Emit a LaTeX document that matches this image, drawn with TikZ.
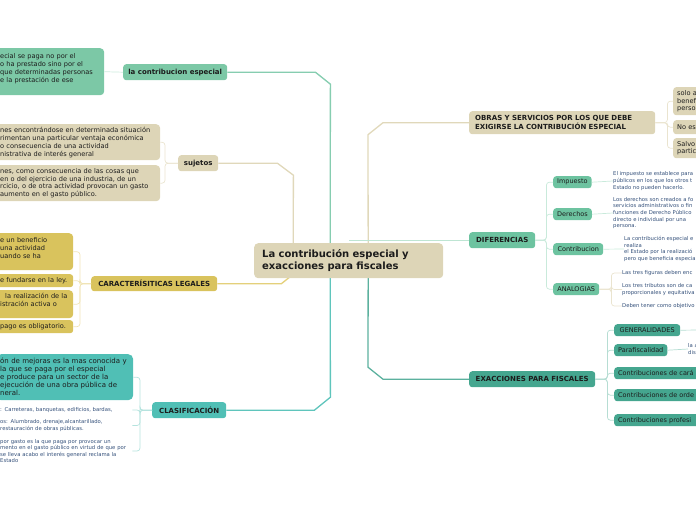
\documentclass[tikz,border=0pt]{standalone}
\usepackage{fontspec}
\setmainfont{DejaVu Sans}
\usepackage{xcolor}
\usepackage{tikz}
\usetikzlibrary{positioning}

\pgfdeclarelayer{background}
\pgfsetlayers{background,main}

\definecolor{ink}{HTML}{1C1C1C}
\definecolor{notec}{HTML}{34507A}
\definecolor{tanbox}{HTML}{DDD5B7}
\definecolor{tanln}{HTML}{E0D8BA}
\definecolor{tantw}{HTML}{EAE4CF}
\definecolor{mint}{HTML}{7CC8A6}
\definecolor{mintln}{HTML}{86CDB0}
\definecolor{minttw}{HTML}{CDEBDD}
\definecolor{mustard}{HTML}{D9C35D}
\definecolor{mustln}{HTML}{E4D07A}
\definecolor{musttw}{HTML}{F0E4B5}
\definecolor{lagoon}{HTML}{50BFB5}
\definecolor{lagoonln}{HTML}{5FC5BC}
\definecolor{lagoontw}{HTML}{B5E3DE}
\definecolor{sea}{HTML}{6DC3A0}
\definecolor{sealn}{HTML}{BEE5D3}
\definecolor{seatw}{HTML}{C9EADB}
\definecolor{pine}{HTML}{45A68F}
\definecolor{pineln}{HTML}{5CB19E}
\definecolor{pinetw}{HTML}{B6DDD3}

\begin{document}
\begin{tikzpicture}[x=1pt, y=-1pt,
  box/.style={rounded corners=3pt, anchor=north west, inner ysep=0pt, inner xsep=4pt, text=ink},
  topic/.style={box, align=center, font=\bfseries\fontsize{7}{8.5}\selectfont},
  leaf/.style={box, align=left, font=\fontsize{6.6}{7.9}\selectfont},
  tag/.style={box, align=center, font=\fontsize{6.5}{7.8}\selectfont},
  note/.style={anchor=west, inner sep=0pt, align=left, text=notec, font=\fontsize{5.3}{6.6}\selectfont},
  link/.style={line width=1.3pt},
  twig/.style={line width=0.7pt, rounded corners=3pt}
]
\useasboundingbox (0,0) rectangle (696,520);

% centre
\node[box, fill=tanbox, rounded corners=4pt, minimum width=189pt, minimum height=35pt, inner xsep=8pt,
  text width=173pt, align=left, font=\bfseries\fontsize{10}{12}\selectfont] (ctr) at (254,243)
  {La contribución especial y\\exacciones para fiscales};

% left side
\node[topic, fill=mint, minimum width=104pt, minimum height=16pt] (ce) at (123,64) {la contribucion especial};
\node[leaf, fill=mint, rounded corners=4pt, text width=100pt, minimum height=47pt] (ce1) at (-4,48)
  {ecial se paga no por el\\o ha prestado sino por el\\que determinadas personas\\e la prestación de ese\\\mbox{}};

\node[topic, fill=tanbox, minimum width=40pt, minimum height=16pt] (suj) at (178,155) {sujetos};
\node[leaf, fill=tanbox, rounded corners=4pt, text width=156pt, minimum height=36pt] (suj1) at (-4,124)
  {nes encontrándose en determinada situación\\rimentan una particular ventaja económica\\o consecuencia de una actividad\\nistrativa de interés general};
\node[leaf, fill=tanbox, rounded corners=4pt, text width=156pt, minimum height=36pt] (suj2) at (-4,165)
  {nes, como consecuencia de las cosas que\\en o del ejercicio de una industria, de un\\rcicio, o de otra actividad provocan un gasto\\aumento en el gasto público.};

\node[topic, fill=mustard, minimum width=126pt, minimum height=15pt] (car) at (91,276) {CARACTERÍSITICAS LEGALES};
\node[leaf, fill=mustard, rounded corners=4pt, text width=69pt, minimum height=37pt] (car1) at (-4,233)
  {e un beneficio\\una actividad\\uando se ha\\\mbox{}};
\node[leaf, fill=mustard, text width=69pt, minimum height=13pt] (car2) at (-4,274) {e fundarse en la ley.};
\node[leaf, fill=mustard, rounded corners=4pt, text width=69pt, minimum height=28pt] (car3) at (-4,290)
  {\hspace*{5pt}la realización de la\\istración activa o\\\mbox{}};
\node[leaf, fill=mustard, text width=69pt, minimum height=13pt] (car4) at (-4,320) {pago es obligatorio.};

\node[topic, fill=lagoon, minimum width=74pt, minimum height=16pt] (cla) at (152,402) {CLASIFICACIÓN};
\node[leaf, fill=lagoon, rounded corners=5pt, text width=129pt, minimum height=46pt,
  font=\fontsize{7}{8}\selectfont] (cla1) at (-4,354)
  {ón de mejoras es la mas conocida y\\la que se paga por el especial\\e produce para un sector de la\\ejecución de una obra pública de\\neral.};
\node[note, text width=132pt] (cln1) at (0,410) {: Carreteras, banquetas, edificios, bardas,};
\node[note, text width=132pt] (cln2) at (0,425.5) {os: Alumbrado, drenaje,alcantarillado,\\restauración de obras públicas.};
\node[note, text width=132pt] (cln3) at (0,451)
  {por gasto es la que paga por provocar un\\mento en el gasto público en virtud de que por\\se lleva acabo el interés general reclama la\\Estado};

% right side
\node[box, fill=tanbox, minimum width=186pt, minimum height=23pt, inner xsep=6pt, text width=174pt, align=left,
  font=\bfseries\fontsize{7}{9}\selectfont] (obr) at (469,111)
  {OBRAS Y SERVICIOS POR LOS QUE DEBE\\EXIGIRSE LA CONTRIBUCIÓN ESPECIAL};
\node[leaf, fill=tanbox, text width=40pt, minimum height=28pt] (ob1) at (673,87) {solo a\\benef\\perso};
\node[leaf, fill=tanbox, text width=40pt, minimum height=14pt] (ob2) at (673,120) {No es};
\node[leaf, fill=tanbox, text width=40pt, minimum height=20pt] (ob3) at (673,138) {Salvo\\partic};

\node[topic, fill=sea, minimum width=66pt, minimum height=16pt] (dif) at (469,232) {DIFERENCIAS};
\node[tag, fill=sea, minimum width=38pt, minimum height=12pt] (imp) at (553,176) {Impuesto};
\node[tag, fill=sea, minimum width=37pt, minimum height=12pt] (der) at (553,208) {Derechos};
\node[tag, fill=sea, minimum width=50pt, minimum height=12pt] (con) at (553,243) {Contribucion};
\node[tag, fill=sea, minimum width=46pt, minimum height=12pt] (ana) at (553,283) {ANALOGIAS};
\node[note] (impn) at (613,181) {El impuesto se establece para\\públicos en los que los otros t\\Estado no pueden hacerlo.};
\node[note] (dern) at (613,213) {Los derechos son creados a fo\\servicios administrativos o fin\\funciones de Derecho Público\\directo e individual por una\\persona.};
\node[note] (conn) at (624,249) {La contribución especial e\\realiza\\el Estado por la realizació\\pero que beneficia especia};
\node[note] (ana1) at (622,273) {Las tres figuras deben enc};
\node[note] (ana2) at (622,289.5) {Los tres tributos son de ca\\proporcionales y equitativa};
\node[note] (ana3) at (622,306) {Deben tener como objetivo};

\node[topic, fill=pine, minimum width=126pt, minimum height=16pt] (exa) at (469,371) {EXACCIONES PARA FISCALES};
\node[tag, fill=pine, minimum width=66pt, minimum height=12pt] (gen) at (614,324) {GENERALIDADES};
\node[tag, fill=pine, minimum width=53pt, minimum height=12pt] (par) at (614,344) {Parafiscalidad};
\node[tag, fill=pine, align=left, text width=100pt, minimum height=12pt] (cc1) at (614,367) {Contribuciones de cará};
\node[tag, fill=pine, align=left, text width=100pt, minimum height=12pt] (cc2) at (614,389) {Contribuciones de orde};
\node[tag, fill=pine, align=left, text width=100pt, minimum height=12pt] (cc3) at (614,414) {Contribuciones profesi};
\node[note] (parn) at (688,349) {la a\\dis};
\coordinate (genx) at (700,330);

% main branches
\begin{pgfonlayer}{background}
  \draw[link, mintln] (ce.east) -- ++(88,0) -- ++(15,12) -- ([xshift=-18.5pt]ctr.center);
  \draw[link, tanln] (suj.east) -- ++(59,0) -- ++(16,12) -- ([xshift=-55.5pt]ctr.center);
  \draw[link, mustln] (car.east) -- ++(64,0) -- ++(15,-12) -- ([xshift=-52.5pt]ctr.center);
  \draw[link, lagoonln] (cla.east) -- ++(88,0) -- ++(16,-13) -- ([xshift=-18.5pt]ctr.center);
  \draw[link, tanln] (obr.west) -- ++(-86,0) -- ++(-15,12) -- ([xshift=19.5pt]ctr.center);
  \draw[link, sealn] (dif.west) -- (dif.west -| ctr.center);
  \draw[link, pineln] (exa.west) -- ++(-86,0) -- ++(-15,-12) -- ([xshift=19.5pt]ctr.center);
\end{pgfonlayer}

% sub branches
\draw[twig, minttw] (ce.west) -- (ce1.east);
\foreach \k in {suj1,suj2} \draw[twig, tantw] (suj.west) -- ++(-13,0) |- (\k.east);
\foreach \k in {car1,car2,car3,car4} \draw[twig, musttw] (car.west) -- ++(-11,0) |- (\k.east);
\foreach \k in {cla1,cln1,cln2,cln3} \draw[twig, lagoontw] (cla.west) -- ++(-12,0) |- (\k.east);
\foreach \k in {ob1,ob2,ob3} \draw[twig, tantw] (obr.east) -- ++(12,0) |- (\k.west);
\foreach \k in {imp,der,con,ana} \draw[twig, seatw] (dif.east) -- ++(11,0) |- (\k.west);
\foreach \k in {ana1,ana2,ana3} \draw[twig, tantw] (ana.east) -- ++(12,0) |- (\k.west);
\foreach \k in {gen,par,cc1,cc2,cc3} \draw[twig, pinetw] (exa.east) -- ++(12,0) |- (\k.west);
\draw[twig, seatw] (imp.east) -- (impn.west);
\draw[twig, seatw] (der.east) -- (dern.west);
\draw[twig, seatw] (con.east) -- (conn.west);
\draw[twig, pinetw] (gen.east) -- (genx);
\draw[twig, pinetw] (par.east) -- (parn.west);
\end{tikzpicture}
\end{document}
